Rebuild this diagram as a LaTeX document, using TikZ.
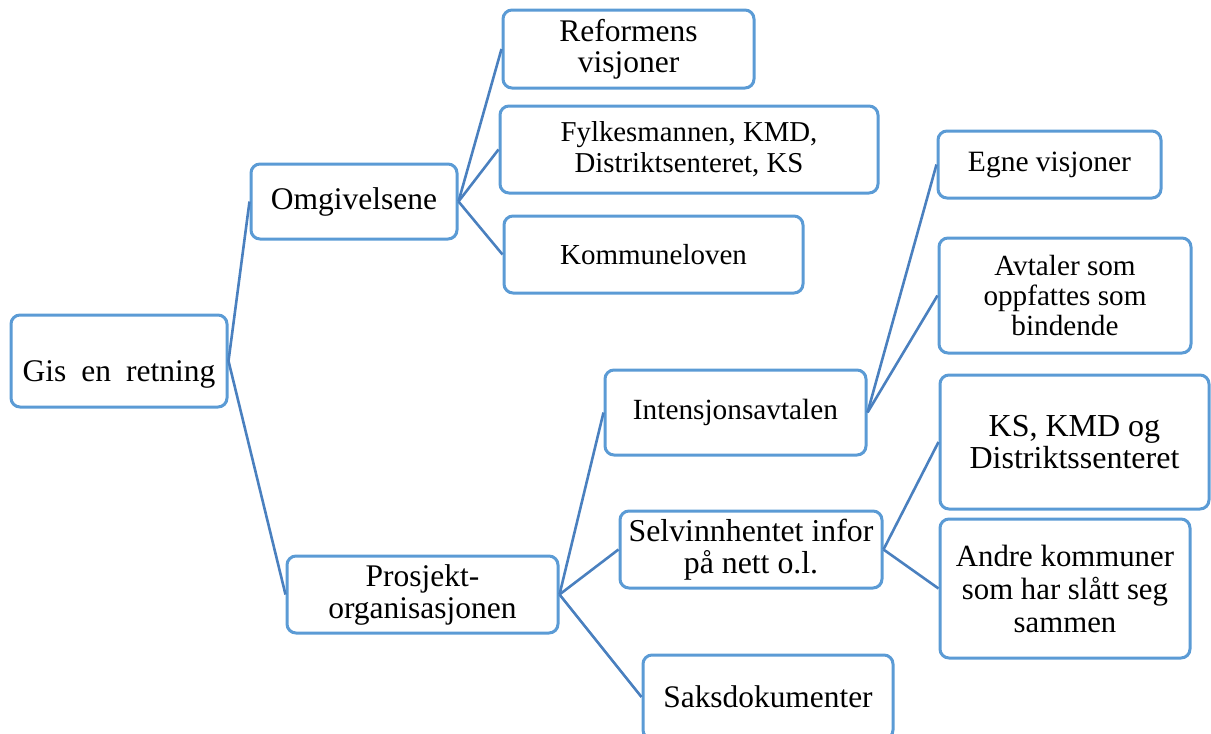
\documentclass[tikz,border=0pt]{standalone}
\usepackage{fontspec}
\setmainfont{Liberation Serif}
\definecolor{boxblue}{HTML}{5B9BD5}
\definecolor{linkblue}{HTML}{4A80BF}
\newcommand{\setfs}[2]{\fontsize{#1}{#2}\selectfont}
\tikzset{
  box/.style={draw=boxblue, line width=3pt, rounded corners=9pt, fill=white,
              align=center, inner sep=0pt},
  link/.style={draw=linkblue, line width=2.6pt},
}
\begin{document}
\begin{tikzpicture}[x=1pt, y=-1pt]
\useasboundingbox (0,0) rectangle (1211,734);
\clip (0,0) rectangle (1211,734);

% root
\node[box, minimum width=216pt, minimum height=92pt, text height=40pt, text depth=0pt,
      font={\setfs{31.5}{32}}] (gis) at (119,361) {Gis\hspace{15pt}en\hspace{15pt}retning};

% first level
\node[box, minimum width=206pt, minimum height=75pt, font={\setfs{31.5}{32}}]
  (omg) at (354,201.5) {Omgivelsene};
\node[box, minimum width=271pt, minimum height=77pt, font={\setfs{31.5}{32}}]
  (pro) at (422.5,594.5) {Prosjekt-\\organisasjonen};

% under Omgivelsene
\node[box, minimum width=251pt, minimum height=78pt, font={\setfs{31.5}{31}}]
  (ref) at (628.5,49) {Reformens\\visjoner};
\node[box, minimum width=378pt, minimum height=87pt, font={\setfs{28.8}{31}}]
  (fyl) at (689,149.5) {Fylkesmannen, KMD,\\Distriktsenteret, KS};
\node[box, minimum width=299pt, minimum height=77pt, font={\setfs{29}{31}}]
  (kom) at (653.5,254.5) {Kommuneloven};

% under Prosjektorganisasjonen
\node[box, minimum width=261pt, minimum height=85pt, font={\setfs{29.3}{31}}]
  (int) at (735.5,412.5) {Intensjonsavtalen};
\node[box, minimum width=262pt, minimum height=77pt, font={\setfs{31.8}{32}}]
  (selv) at (751,549.5) {Selvinnhentet infor\\på nett o.l.};
\node[box, minimum width=250pt, minimum height=84pt, font={\setfs{31.4}{32}}]
  (saks) at (768,697) {Saksdokumenter};

% under Intensjonsavtalen
\node[box, minimum width=223pt, minimum height=67pt, font={\setfs{29.5}{31}}]
  (egn) at (1049.5,164.5) {Egne visjoner};
\node[box, minimum width=252pt, minimum height=115pt, font={\setfs{29.2}{30}}]
  (avt) at (1065,295.5) {Avtaler som\\oppfattes som\\bindende};

% under Selvinnhentet infor
\node[box, minimum width=269pt, minimum height=134pt, font={\setfs{32}{32}}]
  (ks) at (1074.5,442) {KS, KMD og\\Distriktssenteret};
\node[box, minimum width=250pt, minimum height=139pt, font={\setfs{30.8}{33}}]
  (andre) at (1065,588.5) {Andre kommuner\\som har slått seg\\sammen};

% connectors
\draw[link] (gis.east) -- (omg.west);
\draw[link] (gis.east) -- (pro.west);
\draw[link] (omg.east) -- (ref.west);
\draw[link] (omg.east) -- (fyl.west);
\draw[link] (omg.east) -- (kom.west);
\draw[link] (pro.east) -- (int.west);
\draw[link] (pro.east) -- (selv.west);
\draw[link] (pro.east) -- (saks.west);
\draw[link] (int.east) -- (egn.west);
\draw[link] (int.east) -- (avt.west);
\draw[link] (selv.east) -- (ks.west);
\draw[link] (selv.east) -- (andre.west);
\end{tikzpicture}
\end{document}
